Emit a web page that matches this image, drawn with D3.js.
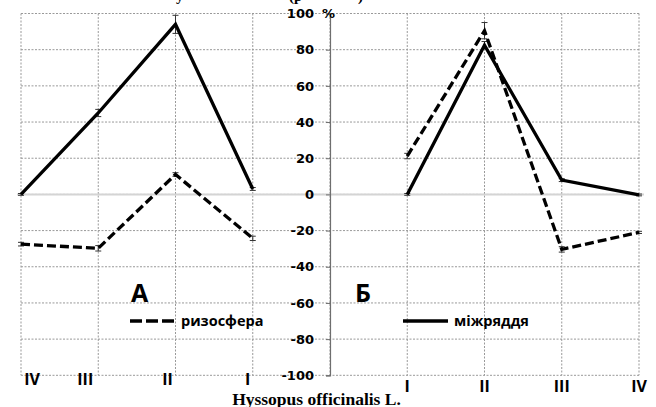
<!DOCTYPE html>
<html>
<head>
<meta charset="utf-8">
<script src="https://cdn.jsdelivr.net/npm/d3@7"></script>
<style>
    body { margin: 0; background: #fff; }
    svg { display: block; }
</style>
</head>
<body>
<svg id="chart" width="656" height="407"></svg>
<script>
// nine category slots: panel A (IV..I), the y-axis slot, panel Б (I..IV)
var slots = ["IV", "III", "II", "I", "", "I", "II", "III", "IV"];
var leftCats = ["IV", "III", "II", "I"];
var rightCats = ["I", "II", "III", "IV"];
var yTicks = [100, 80, 60, 40, 20, 0, -20, -40, -60, -80, -100];

// panel A
var aSolid = [0, 45, 94, 3];          // міжряддя
var aSolidErr = [0.5, 2, 5, 0.8];
var aDash = [-27.5, -29.8, 11, -24.3]; // ризосфера
var aDashErr = [1, 1.5, 1, 1.2];

// panel Б
var bSolid = [0, 82.5, 7.9, -0.3];
var bSolidErr = [0.5, 2, 0.8, 0.5];
var bDash = [21.2, 90.5, -30.4, -21];
var bDashErr = [1.5, 4.5, 1.5, 0.6];

var svg = d3.select("#chart");
var x = d3.scaleLinear().domain([0, slots.length - 1]).range([21, 639]);
var y = d3.scaleLinear().domain([-100, 100]).range([375.3, 13.5]);
var axisX = x(4);

var tickFont = "'DejaVu Sans', sans-serif";
var sans = "'Open Sans', sans-serif";
var serif = "'Liberation Serif', serif";

// gridlines
var grid = svg.append("g");
grid.selectAll("line.h").data(yTicks).enter().append("line")
    .attr("x1", x(0)).attr("x2", x(8))
    .attr("y1", function (d) { return y(d); })
    .attr("y2", function (d) { return y(d); })
    .attr("stroke", "#999").attr("stroke-width", 1)
    .attr("stroke-dasharray", "2,1.5");
grid.selectAll("line.v").data(d3.range(slots.length)).enter().append("line")
    .attr("x1", function (d) { return x(d); })
    .attr("x2", function (d) { return x(d); })
    .attr("y1", y(100)).attr("y2", y(-100))
    .attr("stroke", "#999").attr("stroke-width", 1)
    .attr("stroke-dasharray", "2,1.5");

// zero (category) axis line
svg.append("line")
    .attr("x1", x(0) - 4).attr("x2", x(8) + 5)
    .attr("y1", y(0)).attr("y2", y(0))
    .attr("stroke", "#d4d4d4").attr("stroke-width", 2);

// value axis in the middle slot
var yAxis = d3.axisLeft(y).tickValues(yTicks).tickSize(4).tickPadding(12)
    .tickFormat(function (d) { return d; });
var ax = svg.append("g").attr("transform", "translate(" + axisX + ",0)").call(yAxis);
ax.select(".domain").attr("stroke", "#6e6e6e").attr("stroke-width", 1.2);
ax.selectAll(".tick line").attr("stroke", "#6e6e6e");
ax.selectAll(".tick text")
    .attr("font-family", tickFont).attr("font-weight", "bold")
    .attr("font-size", 13).attr("fill", "#000");
svg.append("text")
    .attr("x", axisX - 8).attr("y", y(100)).attr("dy", "0.35em")
    .attr("font-family", tickFont).attr("font-weight", "bold")
    .attr("font-size", 13).text("%");

// category labels
svg.append("g").selectAll("text").data(leftCats).enter().append("text")
    .attr("x", function (d, i) { return x(i) + [11, -13, -8, -5][i]; })
    .attr("y", 385)
    .attr("text-anchor", "middle")
    .attr("font-family", sans).attr("font-weight", "bold")
    .attr("font-size", 16).text(function (d) { return d; });
svg.append("g").selectAll("text").data(rightCats).enter().append("text")
    .attr("x", function (d, i) { return x(i + 5); })
    .attr("y", 392)
    .attr("text-anchor", "middle")
    .attr("font-family", sans).attr("font-weight", "bold")
    .attr("font-size", 16).text(function (d) { return d; });

// series
function drawSeries(values, errs, offset, dashed) {
    var g = svg.append("g");
    var line = d3.line()
        .x(function (d, i) { return x(i + offset); })
        .y(function (d) { return y(d); });
    g.selectAll("path.err").data(values).enter().append("path")
        .attr("d", function (d, i) {
            var cx = x(i + offset), t = y(d + errs[i]), b = y(d - errs[i]);
            return "M" + (cx - 3) + "," + t + "H" + (cx + 3) +
                "M" + cx + "," + t + "V" + b +
                "M" + (cx - 3) + "," + b + "H" + (cx + 3);
        })
        .attr("stroke", "#333").attr("stroke-width", 1).attr("fill", "none");
    g.append("path").datum(values)
        .attr("d", line)
        .attr("fill", "none").attr("stroke", "#000")
        .attr("stroke-width", 3.3)
        .attr("stroke-dasharray", dashed ? "9,4" : null);
}
drawSeries(aSolid, aSolidErr, 0, false);
drawSeries(aDash, aDashErr, 0, true);
drawSeries(bSolid, bSolidErr, 5, false);
drawSeries(bDash, bDashErr, 5, true);

// panel letters and legend
svg.append("text").attr("x", 131).attr("y", 302)
    .attr("font-family", sans).attr("font-weight", "bold").attr("font-size", 25).text("А");
svg.append("text").attr("x", 355).attr("y", 302)
    .attr("font-family", sans).attr("font-weight", "bold").attr("font-size", 25).text("Б");

svg.append("line").attr("x1", 130).attr("x2", 175).attr("y1", 321).attr("y2", 321)
    .attr("stroke", "#000").attr("stroke-width", 3.5).attr("stroke-dasharray", "12,4");
svg.append("text").attr("x", 181).attr("y", 326)
    .attr("font-family", sans).attr("font-weight", "bold").attr("font-size", 14.5).text("ризосфера");
svg.append("line").attr("x1", 403).attr("x2", 448).attr("y1", 321).attr("y2", 321)
    .attr("stroke", "#000").attr("stroke-width", 3.5);
svg.append("text").attr("x", 454).attr("y", 326)
    .attr("font-family", sans).attr("font-weight", "bold").attr("font-size", 14.5).text("міжряддя");

// species caption and the clipped remains of the title above
svg.append("text").attr("x", 316.5).attr("y", 404.5).attr("text-anchor", "middle")
    .attr("font-family", serif).attr("font-weight", "bold")
    .attr("font-size", 17.5).text("Hyssopus officinalis L.");
svg.append("text").attr("x", 176).attr("y", 1)
    .attr("font-family", serif).attr("font-weight", "bold")
    .attr("font-size", 15).text("у");
svg.append("text").attr("x", 289).attr("y", 1)
    .attr("font-family", serif).attr("font-weight", "bold")
    .attr("font-size", 15).text("(р");
svg.append("text").attr("x", 358).attr("y", 1)
    .attr("font-family", serif).attr("font-weight", "bold")
    .attr("font-size", 15).text(")");
</script>
</body>
</html>
